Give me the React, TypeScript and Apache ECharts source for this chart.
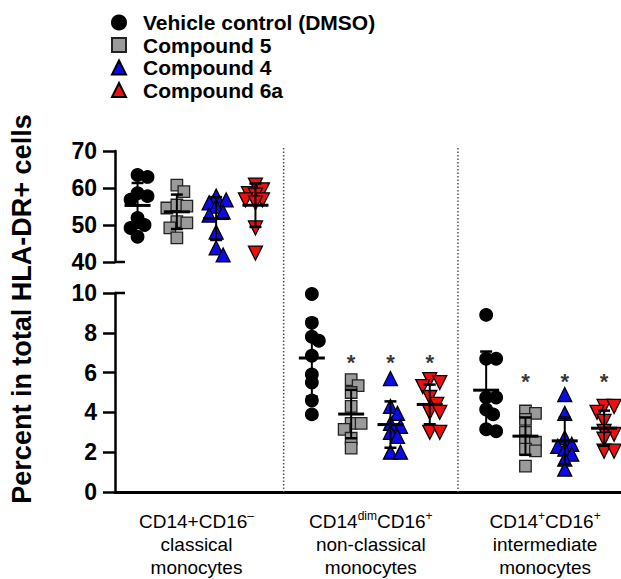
import React, { useEffect, useRef } from "react";
import * as echarts from "echarts";

const FONT = "'Liberation Sans', Arial, Helvetica, sans-serif";

// ---- data ----
const categoryLabels = [
  "CD14+CD16{sup|–}\nclassical\nmonocytes",
  "CD14{sup|dim}CD16{sup|+}\nnon-classical\nmonocytes",
  "CD14{sup|+}CD16{sup|+}\nintermediate\nmonocytes",
];
const seriesNames = ["Vehicle control (DMSO)", "Compound 5", "Compound 4", "Compound 6a"];

const vehicle = [
  [63.5, 63, 57.8, 58.6, 56.8, 51.9, 50, 49.2, 46.8],
  [9.95, 8.5, 7.8, 7.6, 6.85, 5.9, 5.5, 4.6, 3.9],
  [8.9, 6.7, 6.7, 4.75, 4.75, 4.15, 3.9, 3.05, 3.15],
];
const compound5 = [
  [60.8, 59, 54.6, 55.4, 55.1, 50.9, 49.2, 50.6, 46.5],
  [5.65, 5.35, 5.0, 4.3, 3.45, 3.45, 3.15, 2.7, 2.2],
  [4.07, 3.95, 3.65, 3.0, 2.57, 2.5, 2.15, 2.07, 1.3],
];
const compound4 = [
  [57.8, 56.8, 56, 55.1, 53.5, 52.7, 48.1, 43.8, 41.9],
  [5.7, 4.3, 3.95, 3.45, 3.3, 3.0, 2.8, 2.0, 2.0],
  [4.9, 3.95, 2.73, 2.4, 2.3, 2.15, 1.9, 1.65, 1.15],
];
const compound6a = [
  [60.8, 59.5, 58.5, 58.1, 56.8, 56.8, 56, 49.2, 42.4],
  [5.65, 5.5, 5.3, 4.75, 4.4, 4.0, 4.0, 3.0, 3.0],
  [4.3, 4.3, 4.0, 3.55, 3.05, 2.9, 2.65, 2.05, 2.05],
];
const allData = [vehicle, compound5, compound4, compound6a];

// significance star heights per group (null = none), for compounds only
const starY = [null, 6.7, 5.75];

const topTicks = { min: 40, max: 70, interval: 10 };
const bottomTicks = { min: 0, max: 10, interval: 2 };

// ---- layout ----
const GRID_LEFT = 115;
const GRID_W = 506;
const TOP_GRID = { top: 151, height: 111 };
const BOT_GRID = { top: 293, height: 200 };
const PX_PER_GROUP = 174.3;
const XMIN = (GRID_LEFT - 196.5) / PX_PER_GROUP;
const XMAX = (GRID_LEFT + GRID_W - 196.5) / PX_PER_GROUP;
const SERIES_OFF = [-1.5, -0.5, 0.5, 1.5].map((k) => (k * 39.3) / PX_PER_GROUP);

const styles = [
  { symbol: "circle", size: 12.5, color: "#000000", border: "#000000", rotate: 0 },
  { symbol: "rect", size: 11.5, color: "#9a9a9a", border: "#222222", rotate: 0 },
  { symbol: "triangle", size: 14, color: "#0b0bea", border: "#000000", rotate: 0 },
  { symbol: "triangle", size: 14, color: "#ee1010", border: "#000000", rotate: 180 },
];

function mean(a: number[]) {
  return a.reduce((s, v) => s + v, 0) / a.length;
}
function sd(a: number[]) {
  const m = mean(a);
  return Math.sqrt(a.reduce((s, v) => s + (v - m) * (v - m), 0) / (a.length - 1));
}

function swarm(vals: number[], pxPerUnit: number): number[] {
  const order = vals.map((_, i) => i).sort((a, b) => vals[b] - vals[a]);
  const placed: { x: number; y: number }[] = [];
  const off = new Array(vals.length).fill(0);
  const cands = [0, 7, -7, 10, -10];
  for (const i of order) {
    const y = vals[i] * pxPerUnit;
    let best = 0;
    let bestD = -1;
    for (const c of cands) {
      let md = Infinity;
      for (const p of placed) md = Math.min(md, Math.hypot(p.x - c, p.y - y));
      if (md >= 8) {
        best = c;
        break;
      }
      if (md > bestD) {
        bestD = md;
        best = c;
      }
    }
    off[i] = best;
    placed.push({ x: best, y });
  }
  return off;
}

function errRender(_params: any, api: any) {
  const x = api.value(0);
  const m = api.value(1);
  const s = api.value(2);
  const c = api.coord([x, m]);
  const t = api.coord([x, m + s]);
  const b = api.coord([x, m - s]);
  return {
    type: "group",
    children: [
      { type: "line", shape: { x1: c[0], y1: t[1], x2: c[0], y2: b[1] }, style: { stroke: "#000", lineWidth: 2 } },
      { type: "line", shape: { x1: c[0] - 6, y1: t[1], x2: c[0] + 6, y2: t[1] }, style: { stroke: "#000", lineWidth: 2.5 } },
      { type: "line", shape: { x1: c[0] - 6, y1: b[1], x2: c[0] + 6, y2: b[1] }, style: { stroke: "#000", lineWidth: 2.5 } },
      { type: "line", shape: { x1: c[0] - 13, y1: c[1], x2: c[0] + 13, y2: c[1] }, style: { stroke: "#000", lineWidth: 3 } },
    ],
  };
}

function buildOption() {
  const series: any[] = [];
  const topPx = TOP_GRID.height / (topTicks.max - topTicks.min);
  const botPx = BOT_GRID.height / (bottomTicks.max - bottomTicks.min);

  for (let s = 0; s < 4; s++) {
    const st = styles[s];
    const topPts: number[][] = [];
    const botPts: number[][] = [];
    const topBars: number[][] = [];
    const botBars: number[][] = [];
    for (let g = 0; g < 3; g++) {
      const vals = allData[s][g];
      const isTop = g === 0;
      const offs = swarm(vals, isTop ? topPx : botPx);
      const cx = g + SERIES_OFF[s];
      vals.forEach((v, i) => {
        const p = [cx + offs[i] / PX_PER_GROUP, v];
        (isTop ? topPts : botPts).push(p);
      });
      (isTop ? topBars : botBars).push([cx, mean(vals), sd(vals)]);
    }
    const common = {
      type: "scatter",
      name: seriesNames[s],
      symbol: st.symbol,
      symbolSize: st.size,
      symbolRotate: st.rotate,
      itemStyle: { color: st.color, borderColor: st.border, borderWidth: 1.3, opacity: 1 },
      z: 2,
    };
    series.push({ ...common, xAxisIndex: 0, yAxisIndex: 0, data: topPts });
    series.push({ ...common, xAxisIndex: 1, yAxisIndex: 1, data: botPts });
    series.push({ type: "custom", name: "err" + s, xAxisIndex: 0, yAxisIndex: 0, data: topBars, renderItem: errRender, z: 5 });
    series.push({ type: "custom", name: "errb" + s, xAxisIndex: 1, yAxisIndex: 1, data: botBars, renderItem: errRender, z: 5 });
  }

  const stars: number[][] = [];
  for (let g = 0; g < 3; g++) {
    const y = starY[g];
    if (y == null) continue;
    for (let s = 1; s < 4; s++) stars.push([g + SERIES_OFF[s], y]);
  }
  series.push({
    type: "scatter",
    name: "stars",
    xAxisIndex: 1,
    yAxisIndex: 1,
    symbolSize: 0,
    data: stars,
    label: {
      show: true,
      position: "inside",
      formatter: "*",
      fontSize: 22,
      fontWeight: "bold",
      color: "#000",
      fontFamily: FONT,
      offset: [0, 4],
    },
    z: 6,
  });

  const yAxisBase = (t: { min: number; max: number; interval: number }, gi: number) => ({
    type: "value",
    gridIndex: gi,
    min: t.min,
    max: t.max,
    interval: t.interval,
    axisLine: { show: true, onZero: false, lineStyle: { color: "#000", width: 2.5 } },
    axisTick: { show: true, length: 12, lineStyle: { color: "#000", width: 2.5 } },
    axisLabel: { fontSize: 23, fontWeight: "bold", color: "#000", margin: 18, fontFamily: FONT },
    splitLine: { show: false },
  });

  return {
    animation: false,
    backgroundColor: "#ffffff",
    legend: {
      orient: "vertical",
      left: 111,
      top: 12,
      padding: 0,
      itemWidth: 14,
      itemHeight: 14,
      itemGap: 1.5,
      selectedMode: false,
      data: seriesNames,
      textStyle: { fontSize: 21, fontWeight: "bold", color: "#000", fontFamily: FONT, padding: [0, 0, 0, 12] },
    },
    grid: [
      { left: GRID_LEFT, top: TOP_GRID.top, height: TOP_GRID.height, width: GRID_W },
      { left: GRID_LEFT, top: BOT_GRID.top, height: BOT_GRID.height, width: GRID_W },
    ],
    xAxis: [
      { type: "value", gridIndex: 0, min: XMIN, max: XMAX, show: false },
      {
        type: "value",
        gridIndex: 1,
        min: XMIN,
        max: XMAX,
        axisLine: { show: true, onZero: false, lineStyle: { color: "#000", width: 3 } },
        axisTick: { show: false },
        splitLine: { show: false },
        axisLabel: {
          customValues: [0, 1, 2],
          formatter: (v: number) => categoryLabels[Math.round(v)] ?? "",
          fontSize: 19,
          lineHeight: 23,
          color: "#000",
          margin: 18,
          fontFamily: FONT,
          rich: {
            sup: { fontSize: 12, lineHeight: 23, verticalAlign: "top", color: "#000", fontFamily: FONT },
          },
        },
      },
    ],
    yAxis: [yAxisBase(topTicks, 0), yAxisBase(bottomTicks, 1)],
    series,
  };
}

export default function App() {
  const ref = useRef<HTMLDivElement>(null);
  useEffect(() => {
    if (!ref.current) return;
    const chart = echarts.init(ref.current, undefined, { renderer: "svg" });
    chart.setOption(buildOption() as any);

    const d1 = chart.convertToPixel({ xAxisIndex: 1 } as any, 0.5) as number;
    const d2 = chart.convertToPixel({ xAxisIndex: 1 } as any, 1.5) as number;
    const yTop40 = chart.convertToPixel({ yAxisIndex: 0 } as any, topTicks.min) as number;
    const yBot10 = chart.convertToPixel({ yAxisIndex: 1 } as any, bottomTicks.max) as number;
    const yBot0 = chart.convertToPixel({ yAxisIndex: 1 } as any, bottomTicks.min) as number;
    const yTop70 = chart.convertToPixel({ yAxisIndex: 0 } as any, topTicks.max) as number;

    const dotted = (x: number) => ({
      type: "line",
      shape: { x1: x, y1: yTop70 - 3, x2: x, y2: yBot0 },
      style: { stroke: "#555", lineWidth: 1.5, lineDash: [1.5, 2] },
      z: 1,
    });
    chart.setOption({
      graphic: [
        dotted(d1),
        dotted(d2),
        { type: "line", shape: { x1: GRID_LEFT, y1: yTop40, x2: GRID_LEFT + 10, y2: yTop40 }, style: { stroke: "#000", lineWidth: 2.5 } },
        { type: "line", shape: { x1: GRID_LEFT, y1: yBot10, x2: GRID_LEFT + 10, y2: yBot10 }, style: { stroke: "#000", lineWidth: 2.5 } },
        {
          type: "text",
          x: 22,
          y: 309,
          rotation: Math.PI / 2,
          style: {
            text: "Percent in total HLA-DR+ cells",
            fontSize: 27,
            fontWeight: "bold",
            fontFamily: FONT,
            fill: "#000",
            align: "center",
            verticalAlign: "middle",
          },
        },
      ],
    } as any);

    return () => chart.dispose();
  }, []);
  return (
    <div
      ref={ref}
      style={{ position: "fixed", left: 0, top: 0, width: 621, height: 579, background: "#fff" }}
    />
  );
}
